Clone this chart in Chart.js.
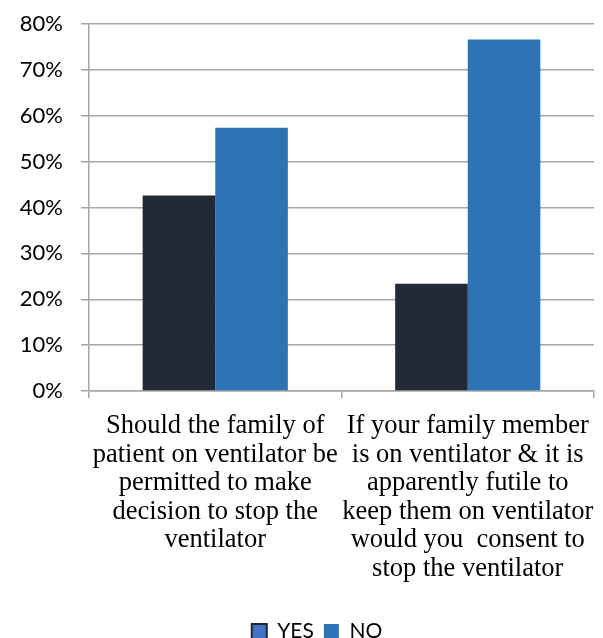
<!DOCTYPE html>
<html>
<head>
<meta charset="utf-8">
<script src="https://cdn.jsdelivr.net/npm/chart.js@4.4.0/dist/chart.umd.min.js"></script>
<style>
  html, body { margin: 0; padding: 0; background: #fff; }
  #wrap { width: 603px; height: 638px; position: relative; }
</style>
</head>
<body>
<div id="wrap"><canvas id="surveyChart"></canvas></div>
<script>
// chart data
var categories = [
    ['Should the family of', 'patient on ventilator be', 'permitted to make', 'decision to stop the', 'ventilator'],
    ['If your family member', 'is on ventilator & it is', 'apparently futile to', 'keep them on ventilator', 'would you  consent to', 'stop the ventilator']
];
var yesValues = [42.6, 23.4];
var noValues = [57.4, 76.6];
var yTicks = [0, 10, 20, 30, 40, 50, 60, 70, 80];

var gridGray = '#a6a6a6';

// legend in the picture sits a bit right of the page centre
var legendShift = {
    id: 'legendShift',
    afterLayout: function(chart) {
        chart.legend.left += 40;
    }
};

var ctx = document.getElementById('surveyChart').getContext('2d');
var myChart = new Chart(ctx, {
    type: 'bar',
    data: {
        labels: categories,
        datasets: [{
            label: 'YES',
            data: yesValues,
            backgroundColor: '#232a35',
            borderWidth: 0
        }, {
            label: 'NO',
            data: noValues,
            backgroundColor: '#2e74b5',
            borderWidth: 0
        }]
    },
    plugins: [legendShift],
    options: {
        responsive: true,
        maintainAspectRatio: false,
        animation: false,
        layout: {
            padding: { top: 24, right: 9, left: 0, bottom: -14 }
        },
        datasets: {
            bar: { categoryPercentage: 0.575, barPercentage: 1 }
        },
        scales: {
            x: {
                grid: {
                    offset: true,
                    drawOnChartArea: false,
                    color: gridGray,
                    lineWidth: 1.5,
                    tickLength: 7
                },
                border: { display: true, color: gridGray, width: 1.5 },
                ticks: {
                    color: '#000',
                    autoSkip: false,
                    maxRotation: 0,
                    padding: 14,
                    font: { family: '"Liberation Serif", "Times New Roman", serif', size: 26.5, lineHeight: 1.075 }
                },
                afterFit: function(scale) {
                    scale.height = 220;
                    // let the wide labels run to the edge instead of shrinking the plot
                    scale.paddingLeft = 0;
                    scale.paddingRight = 0;
                }
            },
            y: {
                min: 0,
                max: 80,
                afterBuildTicks: function(scale) {
                    scale.ticks = yTicks.map(function(v) { return { value: v }; });
                },
                grid: {
                    color: gridGray,
                    lineWidth: 1.5,
                    tickLength: 8
                },
                border: { display: true, color: gridGray, width: 1.5 },
                ticks: {
                    color: '#000',
                    padding: 18,
                    font: { family: 'Lato, sans-serif', size: 22 },
                    callback: function(v) { return v + '%'; }
                },
                afterFit: function(scale) {
                    scale.width = 89;
                    // tick padding would otherwise push the plot top down
                    scale.paddingTop = 0;
                    scale.paddingBottom = 0;
                }
            }
        },
        plugins: {
            tooltip: { enabled: false },
            legend: {
                position: 'bottom',
                labels: {
                    color: '#000',
                    boxWidth: 15,
                    boxHeight: 15,
                    padding: 10,
                    font: { family: 'Lato, sans-serif', size: 21 },
                    generateLabels: function(chart) {
                        var items = Chart.defaults.plugins.legend.labels.generateLabels(chart);
                        // the YES key in the picture is a blue square with a dark edge
                        items[0].fillStyle = '#4472c4';
                        items[0].strokeStyle = '#1f2633';
                        items[0].lineWidth = 2;
                        items[1].lineWidth = 0;
                        return items;
                    }
                }
            }
        }
    }
});
</script>
</body>
</html>
